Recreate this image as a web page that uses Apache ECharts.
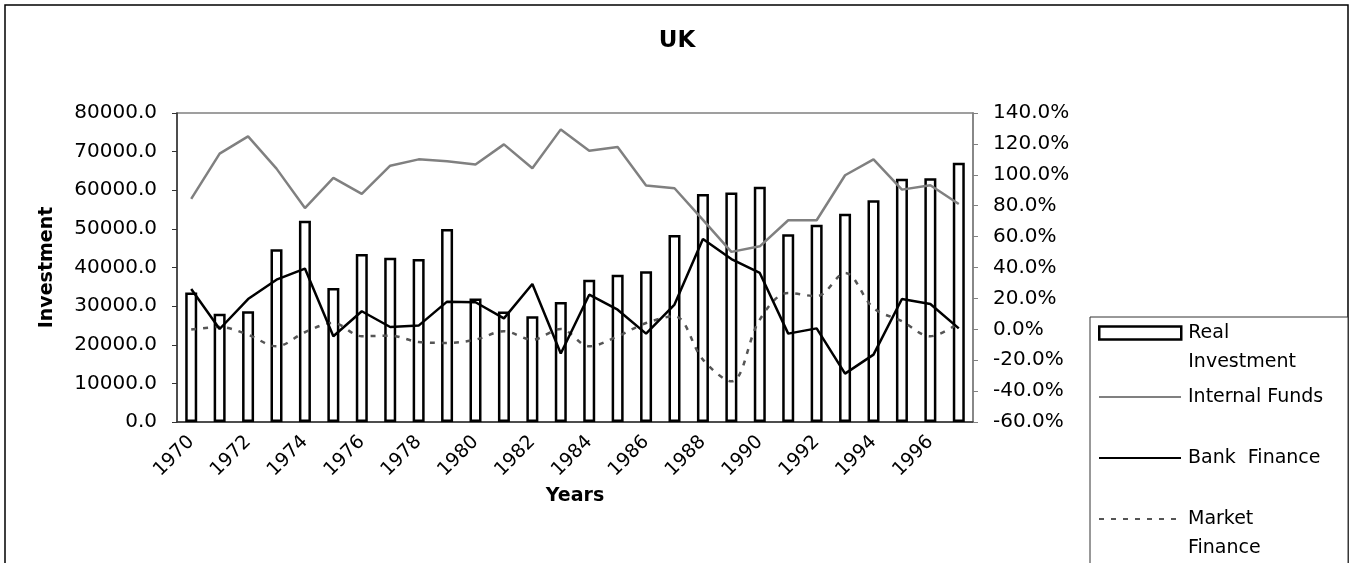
<!DOCTYPE html>
<html>
<head>
<meta charset="utf-8">
<script src="https://cdn.jsdelivr.net/npm/echarts@6/dist/echarts.min.js"></script>
<style>
  html, body { margin: 0; padding: 0; background: #fff; }
  #chart { width: 1352px; height: 563px; }
</style>
</head>
<body>
<div id="chart"></div>
<script>
var years = ['1970','1971','1972','1973','1974','1975','1976','1977','1978','1979',
             '1980','1981','1982','1983','1984','1985','1986','1987','1988','1989',
             '1990','1991','1992','1993','1994','1995','1996','1997'];
var realInvestment = [33500, 28000, 28700, 44700, 52100, 34700, 43500, 42500, 42200, 50000,
                      32000, 28600, 27400, 31100, 36800, 38100, 39000, 48400, 59000, 59400,
                      60900, 48600, 51100, 53900, 57400, 63000, 63100, 67100];
// right axis, in percent
var internalFunds = [84.4, 113.7, 124.9, 104.0, 78.5, 98.0, 87.6, 105.9, 110.0, 108.7,
                     106.6, 119.7, 104.2, 129.4, 115.6, 118.0, 93.0, 91.3, 70.8, 50.1,
                     53.7, 70.6, 70.6, 99.7, 110.0, 90.4, 93.2, 81.1];
var bankFinance = [26.1, 0.2, 19.6, 32.1, 39.3, -4.5, 11.7, 1.5, 2.4, 17.9,
                   17.5, 7.1, 29.3, -15.7, 22.4, 12.7, -2.8, 16.0, 58.5, 45.5,
                   36.5, -2.8, 0.6, -28.7, -16.4, 19.6, 16.4, 0.6];
var marketFinance = [-0.2, 1.5, -3.5, -11.0, -1.9, 4.1, -4.5, -4.1, -8.2, -8.8,
                     -6.7, -1.3, -6.7, 0.2, -11.0, -4.5, 4.1, 8.4, -19.6, -33.7,
                     6.3, 23.5, 21.4, 36.5, 13.8, 5.2, -4.5, 4.1];

var font = 'DejaVu Sans';
var myChart = echarts.init(document.getElementById('chart'));

// one legend per entry so the two-line labels sit like the original
// (a blank first line keeps the key level with the first text line)
function legendBox(name, top, label, isBar) {
    var lg = {
        data: [name],
        orient: 'vertical',
        left: 1098,
        top: top,
        padding: 0,
        itemWidth: 82,
        itemHeight: 13,
        itemGap: 0,
        selectedMode: false,
        formatter: function () { return label; },
        textStyle: {
            fontFamily: font,
            fontSize: 19,
            color: '#000',
            lineHeight: 29,
            padding: [0, 0, 0, 2]
        }
    };
    if (isBar) {
        lg.icon = 'rect';
        lg.itemStyle = { color: '#fff', borderColor: '#000', borderWidth: 2.5 };
    } else {
        lg.itemStyle = { color: 'rgba(0,0,0,0)', borderWidth: 0, opacity: 0 };
    }
    return lg;
}

var option = {
    animation: false,
    backgroundColor: '#fff',
    title: {
        text: 'UK',
        left: 672,
        top: 25,
        textAlign: 'center',
        textStyle: { fontFamily: font, fontSize: 23, fontWeight: 'bold', color: '#000' }
    },
    graphic: [
        {
            type: 'rect',
            shape: { x: 5, y: 5, width: 1343, height: 620 },
            style: { fill: null, stroke: '#000', lineWidth: 1.5 },
            z: 0
        },
        {
            type: 'rect',
            shape: { x: 1090, y: 317, width: 258, height: 300 },
            style: { fill: '#fff', stroke: '#333', lineWidth: 1 },
            z: 1
        }
    ],
    legend: [
        legendBox('Real Investment', 289.5, ' \nReal\nInvestment', true),
        legendBox('Internal Funds', 382.5, 'Internal Funds', false),
        legendBox('Bank Finance', 443.5, 'Bank  Finance', false),
        legendBox('Market Finance', 475.5, ' \nMarket\nFinance', false)
    ],
    grid: {
        left: 177,
        right: 379,
        top: 113,
        bottom: 141,
        show: true,
        borderColor: '#808080',
        borderWidth: 1.5
    },
    xAxis: {
        type: 'category',
        data: years,
        name: 'Years',
        nameLocation: 'middle',
        nameGap: 64,
        nameTextStyle: { fontFamily: font, fontSize: 19, fontWeight: 'bold', color: '#000' },
        axisLine: { lineStyle: { color: '#333', width: 1.5 } },
        axisTick: { interval: 0, length: 6, lineStyle: { color: '#333' } },
        axisLabel: {
            interval: 1,
            rotate: 45,
            margin: 17,
            fontFamily: font,
            fontSize: 19,
            color: '#000'
        },
        splitLine: { show: false }
    },
    yAxis: [
        {
            type: 'value',
            min: 0,
            max: 80000,
            interval: 10000,
            name: 'Investment',
            nameLocation: 'middle',
            nameGap: 120,
            nameRotate: 90,
            nameTextStyle: { fontFamily: font, fontSize: 19, fontWeight: 'bold', color: '#000' },
            axisLine: { show: true, lineStyle: { color: '#333', width: 1.5 } },
            axisTick: { show: true, length: 5, lineStyle: { color: '#333' } },
            axisLabel: {
                margin: 20,
                fontFamily: font,
                fontSize: 20,
                color: '#000',
                formatter: function (v) { return v.toFixed(1); }
            },
            splitLine: { show: false }
        },
        {
            type: 'value',
            min: -60,
            max: 140,
            interval: 20,
            position: 'right',
            axisLine: { show: true, lineStyle: { color: '#808080', width: 1.5 } },
            axisTick: { show: true, length: 5, lineStyle: { color: '#808080' } },
            axisLabel: {
                margin: 20,
                fontFamily: font,
                fontSize: 20,
                color: '#000',
                formatter: function (v) { return v.toFixed(1) + '%'; }
            },
            splitLine: { show: false }
        }
    ],
    series: [
        {
            name: 'Real Investment',
            type: 'bar',
            yAxisIndex: 0,
            barWidth: 12,
            data: realInvestment,
            itemStyle: { color: '#fff', borderColor: '#000', borderWidth: 2.5 }
        },
        {
            name: 'Internal Funds',
            type: 'line',
            yAxisIndex: 1,
            symbol: 'none',
            data: internalFunds,
            lineStyle: { color: '#808080', width: 2.5 },
            itemStyle: { color: '#808080' },
            z: 3
        },
        {
            name: 'Bank Finance',
            type: 'line',
            yAxisIndex: 1,
            symbol: 'none',
            data: bankFinance,
            lineStyle: { color: '#000', width: 2.5 },
            itemStyle: { color: '#000' },
            z: 4
        },
        {
            name: 'Market Finance',
            type: 'line',
            yAxisIndex: 1,
            symbol: 'none',
            smooth: 0.35,
            data: marketFinance,
            lineStyle: { color: '#555', width: 2.5, type: [5, 7] },
            itemStyle: { color: '#555' },
            z: 3
        }
    ]
};
myChart.setOption(option);
</script>
</body>
</html>
